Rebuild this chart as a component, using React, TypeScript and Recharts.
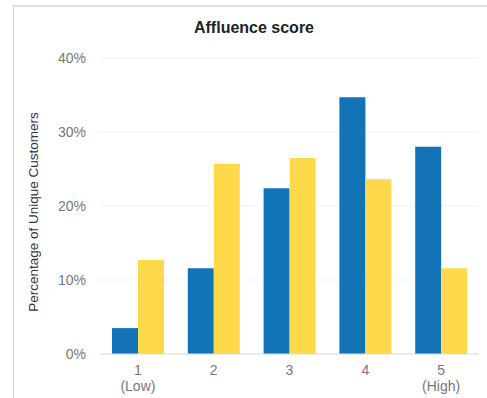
import React from 'react'
import { BarChart, Bar, XAxis, YAxis, CartesianGrid } from 'recharts'

const scores = ['1', '2', '3', '4', '5']
const scoreNotes = ['(Low)', '', '', '', '(High)']
const blueValues = [3.5, 11.6, 22.4, 34.7, 28.0]
const yellowValues = [12.7, 25.7, 26.5, 23.6, 11.6]
const yTicks = [0, 10, 20, 30, 40]

const data = scores.map((s, i) => ({
  score: s,
  note: scoreNotes[i],
  blue: blueValues[i],
  yellow: yellowValues[i],
}))

const font = '"Liberation Sans", Arial, sans-serif'

function ScoreTick(props: any) {
  const { x, y, payload, index } = props
  const note = scoreNotes[index]
  return (
    <g transform={`translate(${x},${y})`}>
      <text textAnchor="middle" fill="#777" fontSize={14} fontFamily={font}>
        <tspan x={0} dy={13}>{payload.value}</tspan>
        {note && <tspan x={0} dy={16}>{note}</tspan>}
      </text>
    </g>
  )
}

export default function App() {
  return (
    <div style={{ position: 'fixed', left: 0, top: 0, width: 487, height: 398, overflow: 'hidden', background: '#fff' }}>
      <div
        style={{
          position: 'absolute',
          left: 13,
          top: 5,
          width: 500,
          height: 420,
          borderLeft: '1px solid #d4d4d4',
          borderTop: '2px solid #dedede',
        }}
      />
      <div
        style={{
          position: 'absolute',
          left: 0,
          top: 19,
          width: 508,
          textAlign: 'center',
          fontFamily: font,
          fontWeight: 'bold',
          fontSize: 16,
          color: '#222',
        }}
      >
        Affluence score
      </div>
      <div style={{ position: 'absolute', left: 0, top: 0 }}>
        <BarChart
          width={487}
          height={398}
          data={data}
          margin={{ top: 58, right: 8, bottom: 14, left: 0 }}
          barCategoryGap={12}
          barGap={0}
        >
          <CartesianGrid vertical={false} stroke="#f2f2f2" />
          <XAxis
            dataKey="score"
            tick={<ScoreTick />}
            tickLine={false}
            axisLine={{ stroke: '#ddd' }}
            interval={0}
          />
          <YAxis
            width={100}
            domain={[0, 40]}
            ticks={yTicks}
            tickFormatter={(v: number) => `${v}%`}
            tick={{ fill: '#777', fontSize: 14, fontFamily: font }}
            tickLine={false}
            tickSize={0}
            tickMargin={14}
            axisLine={false}
            label={{
              content: () => (
                <text
                  transform="translate(38,212) rotate(-90)"
                  textAnchor="middle"
                  fill="#333"
                  fontSize={13.5}
                  fontFamily={font}
                >
                  Percentage of Unique Customers
                </text>
              ),
            }}
          />
          <Bar dataKey="blue" fill="#1273b7" isAnimationActive={false} />
          <Bar dataKey="yellow" fill="#ffd94a" isAnimationActive={false} />
        </BarChart>
      </div>
    </div>
  )
}
